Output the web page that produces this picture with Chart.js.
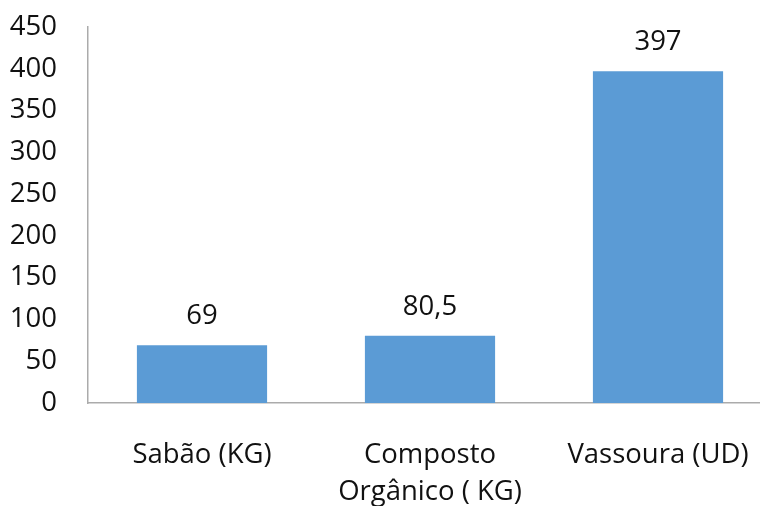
<!DOCTYPE html>
<html>
<head>
<meta charset="utf-8">
<script src="https://cdn.jsdelivr.net/npm/chart.js@4/dist/chart.umd.min.js"></script>
<style>
  html, body { margin: 0; padding: 0; background: #fff; overflow: hidden; }
  #wrap { position: relative; width: 780px; height: 520px; }
</style>
</head>
<body>
<div id="wrap"><canvas id="chart"></canvas></div>
<script>
// Produção por item
const categories = ['Sabão (KG)', ['Composto', 'Orgânico ( KG)'], 'Vassoura (UD)'];
const values = [69, 80.5, 397];
const yTicks = { min: 0, max: 450, step: 50 };

const FONT = '"Open Sans", sans-serif';
const TEXT = '#111111';
const AXIS = '#ABABAB';
const CANVAS_H = 520;
const AXIS_Y = 403;

const fmt = v => String(v).replace('.', ',');

// Value labels above each bar
const valueLabels = {
  id: 'valueLabels',
  afterDatasetsDraw(chart) {
    const { ctx } = chart;
    const meta = chart.getDatasetMeta(0);
    ctx.save();
    ctx.font = '27.5px ' + FONT;
    ctx.fillStyle = TEXT;
    ctx.textAlign = 'center';
    ctx.textBaseline = 'alphabetic';
    meta.data.forEach((bar, i) => {
      ctx.fillText(fmt(chart.data.datasets[0].data[i]), bar.x, bar.y - 21);
    });
    ctx.restore();
  }
};

new Chart(document.getElementById('chart'), {
  type: 'bar',
  data: {
    labels: categories,
    datasets: [{
      data: values,
      backgroundColor: '#5B9BD5',
      borderWidth: 0,
      categoryPercentage: 0.571,
      barPercentage: 1
    }]
  },
  options: {
    responsive: true,
    maintainAspectRatio: false,
    animation: false,
    layout: { padding: { top: 27, right: 8, left: 0, bottom: 0 } },
    plugins: { legend: { display: false }, tooltip: { enabled: false } },
    scales: {
      x: {
        grid: { display: false, drawTicks: false },
        border: { display: true, color: AXIS, width: 1.5 },
        ticks: {
          color: TEXT,
          font: { family: FONT, size: 27.5, lineHeight: 1.36 },
          padding: 33,
          maxRotation: 0,
          autoSkip: false
        },
        afterFit(scale) {
          scale.height = CANVAS_H - AXIS_Y;
          scale.paddingLeft = 0;
          scale.paddingRight = 0;
        }
      },
      y: {
        min: yTicks.min,
        max: yTicks.max,
        grid: { display: false, drawTicks: false },
        border: { display: true, color: AXIS, width: 1.5 },
        ticks: {
          stepSize: yTicks.step,
          color: TEXT,
          font: { family: FONT, size: 27.5 },
          padding: 31
        },
        afterFit(scale) {
          scale.width = 88;
          scale.paddingTop = 0;
          scale.paddingBottom = 0;
        }
      }
    }
  },
  plugins: [valueLabels]
});
</script>
</body>
</html>
